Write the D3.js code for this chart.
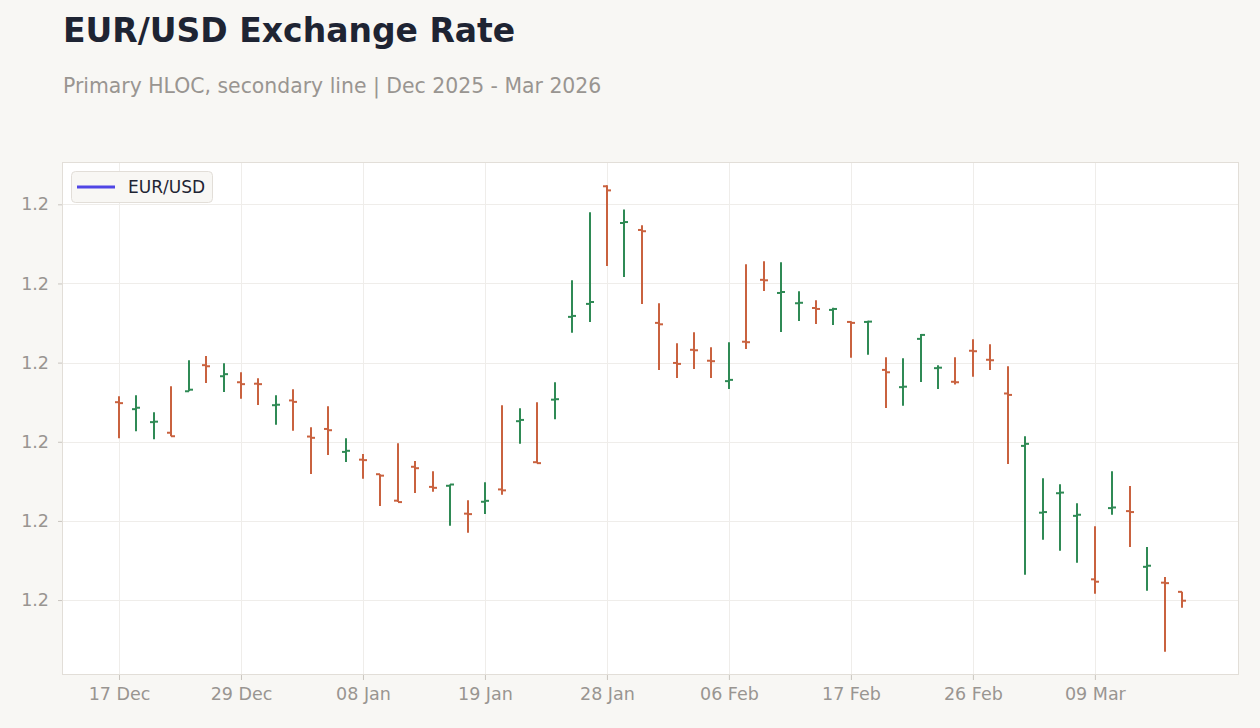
<!DOCTYPE html>
<html lang="en">
<head>
    <meta charset="UTF-8">
    <title>EUR/USD Exchange Rate</title>
    <script src="https://cdn.jsdelivr.net/npm/d3@7"></script>
    <style>
        body {
            margin: 0;
            background: #f8f7f4;
            font-family: "DejaVu Sans", sans-serif;
        }
        .title { font-size: 33px; font-weight: bold; fill: #1e2433; }
        .subtitle { font-size: 20.4px; fill: #999591; }
        .axis text { font-size: 17.5px; fill: #999591; font-family: "DejaVu Sans", sans-serif; }
        .axis line { stroke: #c9c5bf; }
        .axis path { display: none; }
        .grid line { stroke: #efedea; stroke-width: 1; }
        .legend-text { font-size: 17px; fill: #1e2433; }
    </style>
</head>
<body>
<svg id="chart" width="1260" height="728"></svg>
<script>
    // trading days, 17 Dec 2025 - 16 Mar 2026
    const dates = [
        "2025-12-17","2025-12-18","2025-12-19","2025-12-22","2025-12-23","2025-12-24","2025-12-26",
        "2025-12-29","2025-12-30","2025-12-31","2026-01-02","2026-01-05","2026-01-06","2026-01-07",
        "2026-01-08","2026-01-09","2026-01-12","2026-01-13","2026-01-14","2026-01-15","2026-01-16",
        "2026-01-19","2026-01-20","2026-01-21","2026-01-22","2026-01-23","2026-01-26","2026-01-27",
        "2026-01-28","2026-01-29","2026-01-30","2026-02-02","2026-02-03","2026-02-04","2026-02-05",
        "2026-02-06","2026-02-09","2026-02-10","2026-02-11","2026-02-12","2026-02-13","2026-02-16",
        "2026-02-17","2026-02-18","2026-02-19","2026-02-20","2026-02-23","2026-02-24","2026-02-25",
        "2026-02-26","2026-02-27","2026-03-02","2026-03-03","2026-03-04","2026-03-05","2026-03-06",
        "2026-03-09","2026-03-10","2026-03-11","2026-03-12","2026-03-13","2026-03-16"
    ];

    const open = [
        1.17250, 1.17206, 1.17124, 1.17057, 1.17319, 1.17484, 1.17414, 1.17376, 1.17367, 1.17231,
        1.17261, 1.17033, 1.17081, 1.16936, 1.16887, 1.16795, 1.16628, 1.16842, 1.16715, 1.16722,
        1.16546, 1.16621, 1.16699, 1.17130, 1.16871, 1.17266, 1.17789, 1.17871, 1.18614, 1.18382,
        1.18338, 1.17751, 1.17498, 1.17581, 1.17512, 1.17383, 1.17632, 1.18023, 1.17940, 1.17875,
        1.17845, 1.17833, 1.17757, 1.17757, 1.17454, 1.17345, 1.17650, 1.17465, 1.17379, 1.17575,
        1.17518, 1.17305, 1.16974, 1.16552, 1.16675, 1.16532, 1.16131, 1.16581, 1.16562, 1.16210,
        1.16110, 1.16052
    ];

    const high = [
        1.17288, 1.17294, 1.17187, 1.17351, 1.17515, 1.17542, 1.17496, 1.17439, 1.17401, 1.17294,
        1.17332, 1.17092, 1.17225, 1.17023, 1.16922, 1.16795, 1.16991, 1.16878, 1.16814, 1.16730,
        1.16631, 1.16745, 1.17231, 1.17212, 1.17250, 1.17376, 1.18020, 1.18450, 1.18620, 1.18468,
        1.18367, 1.17875, 1.17622, 1.17692, 1.17597, 1.17629, 1.18121, 1.18140, 1.18134, 1.17951,
        1.17894, 1.17847, 1.17761, 1.17765, 1.17534, 1.17528, 1.17681, 1.17484, 1.17534, 1.17648,
        1.17616, 1.17477, 1.17035, 1.16770, 1.16732, 1.16612, 1.16467, 1.16814, 1.16720, 1.16335,
        1.16145, 1.16052
    ];

    const low = [
        1.17023, 1.17067, 1.17016, 1.17035, 1.17319, 1.17372, 1.17315, 1.17271, 1.17233, 1.17107,
        1.17069, 1.16797, 1.16917, 1.16873, 1.16766, 1.16595, 1.16619, 1.16677, 1.16684, 1.16469,
        1.16425, 1.16543, 1.16665, 1.16987, 1.16865, 1.17143, 1.17688, 1.17757, 1.18110, 1.18041,
        1.17871, 1.17454, 1.17403, 1.17460, 1.17403, 1.17334, 1.17586, 1.17953, 1.17694, 1.17763,
        1.17744, 1.17738, 1.17530, 1.17549, 1.17214, 1.17227, 1.17378, 1.17334, 1.17362, 1.17410,
        1.17454, 1.16860, 1.16160, 1.16381, 1.16311, 1.16235, 1.16040, 1.16539, 1.16336, 1.16059,
        1.15674, 1.15951
    ];

    const close = [
        1.17244, 1.17215, 1.17127, 1.17035, 1.17329, 1.17477, 1.17427, 1.17364, 1.17364, 1.17234,
        1.17252, 1.17025, 1.17073, 1.16943, 1.16884, 1.16786, 1.16619, 1.16833, 1.16709, 1.16730,
        1.16543, 1.16627, 1.16693, 1.17138, 1.16865, 1.17269, 1.17795, 1.17883, 1.18588, 1.18388,
        1.18330, 1.17742, 1.17492, 1.17578, 1.17509, 1.17391, 1.17629, 1.18020, 1.17946, 1.17878,
        1.17839, 1.17839, 1.17751, 1.17759, 1.17439, 1.17348, 1.17675, 1.17468, 1.17376, 1.17572,
        1.17515, 1.17296, 1.16987, 1.16556, 1.16679, 1.16539, 1.16116, 1.16585, 1.16556, 1.16217,
        1.16107, 1.15996
    ];

    const seriesName = "EUR/USD";
    const upColor = "#2f8a55";
    const downColor = "#c9623f";
    const lineColor = "#5046e5";

    const data = dates.map((d, i) => ({
        date: d, open: open[i], high: high[i], low: low[i], close: close[i]
    }));

    const svg = d3.select("#chart");
    const margin = {top: 162, right: 21, bottom: 53, left: 62};
    const W = 1260, H = 728;
    const iw = W - margin.left - margin.right;
    const ih = H - margin.top - margin.bottom;

    // title
    svg.append("text").attr("class", "title").attr("x", 63).attr("y", 42).text("EUR/USD Exchange Rate");
    svg.append("text").attr("class", "subtitle").attr("x", 63).attr("y", 93)
        .text("Primary HLOC, secondary line | Dec 2025 - Mar 2026");

    const g = svg.append("g").attr("transform", `translate(${margin.left},${margin.top})`);

    g.append("rect")
        .attr("x", 0.5).attr("y", 0.5)
        .attr("width", iw - 1).attr("height", ih - 1)
        .attr("fill", "#ffffff")
        .attr("stroke", "#e2ded8");

    const x = d3.scalePoint()
        .domain(dates)
        .range([0, iw])
        .padding(3.27);

    const lo = d3.min(low), hi = d3.max(high);
    const pad = (hi - lo) * 0.05;
    const y = d3.scaleLinear()
        .domain([lo - pad, hi + pad])
        .range([ih, 0]);

    const tickDates = dates.filter((d, i) => i % 7 === 0);
    const parse = d3.timeParse("%Y-%m-%d");
    const fmt = d3.timeFormat("%d %b");

    // grid
    g.append("g").attr("class", "grid")
        .selectAll("line").data(y.ticks())
        .join("line")
        .attr("x1", 1).attr("x2", iw - 1)
        .attr("y1", d => Math.round(y(d)) + 0.5).attr("y2", d => Math.round(y(d)) + 0.5);

    g.append("g").attr("class", "grid")
        .selectAll("line").data(tickDates)
        .join("line")
        .attr("x1", d => Math.round(x(d)) + 0.5).attr("x2", d => Math.round(x(d)) + 0.5)
        .attr("y1", 1).attr("y2", ih - 1);

    // axes
    g.append("g").attr("class", "axis")
        .attr("transform", `translate(0,${ih})`)
        .call(d3.axisBottom(x).tickValues(tickDates).tickSize(5).tickPadding(8)
            .tickFormat(d => fmt(parse(d))));

    g.append("g").attr("class", "axis")
        .call(d3.axisLeft(y).tickSize(4).tickPadding(9).tickFormat(d3.format(".1f")));

    // HLOC bars
    const bars = g.append("g").selectAll("g")
        .data(data)
        .join("g")
        .attr("transform", d => `translate(${Math.round(x(d.date))},0)`)
        .attr("stroke", d => d.close >= d.open ? upColor : downColor)
        .attr("stroke-width", 2);

    bars.append("line")
        .attr("x1", 0).attr("x2", 0)
        .attr("y1", d => y(d.high)).attr("y2", d => y(d.low));

    bars.append("line")
        .attr("x1", -4).attr("x2", 0)
        .attr("y1", d => y(d.open)).attr("y2", d => y(d.open));

    bars.append("line")
        .attr("x1", 0).attr("x2", 4)
        .attr("y1", d => y(d.close)).attr("y2", d => y(d.close));

    // legend
    const lg = g.append("g").attr("transform", "translate(9,9)");
    lg.append("rect")
        .attr("x", 0.5).attr("y", 0.5)
        .attr("width", 141).attr("height", 31)
        .attr("rx", 4)
        .attr("fill", "#f8f7f4")
        .attr("stroke", "#e2ded8");
    lg.append("line")
        .attr("x1", 6).attr("x2", 44)
        .attr("y1", 16).attr("y2", 16)
        .attr("stroke", lineColor)
        .attr("stroke-width", 3);
    lg.append("text")
        .attr("class", "legend-text")
        .attr("x", 57).attr("y", 22)
        .text(seriesName);
</script>
</body>
</html>
